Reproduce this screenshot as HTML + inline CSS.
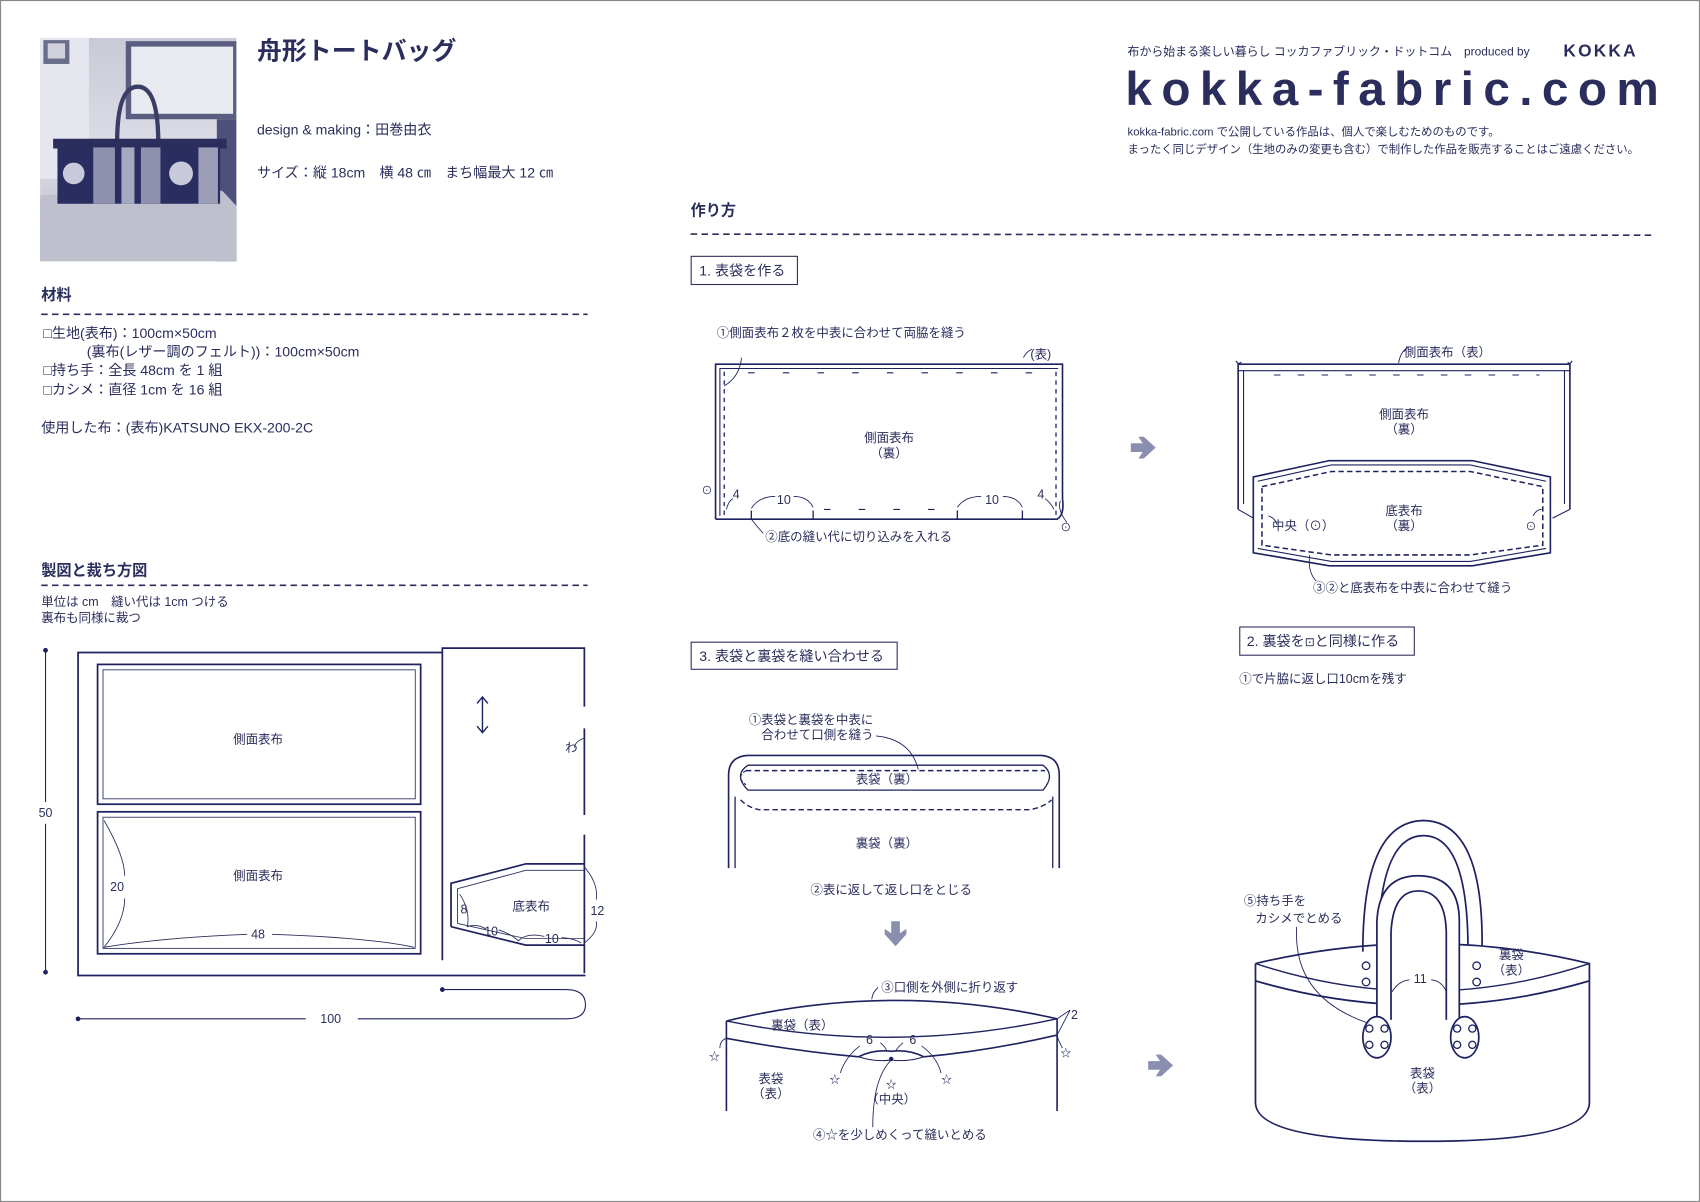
<!DOCTYPE html>
<html><head><meta charset="utf-8">
<style>
html,body{margin:0;padding:0;background:#fff;}
svg{display:block;}
text{font-family:"Liberation Sans","Noto Sans CJK JP",sans-serif;fill:#2b2e5c;}
</style></head>
<body>
<svg width="1700" height="1202" viewBox="0 0 1568 1109" preserveAspectRatio="none" xmlns="http://www.w3.org/2000/svg">
<rect x="0.5" y="0.5" width="1567" height="1108" fill="#fff" stroke="#888" stroke-width="1"/>

<!-- photo -->
<defs>
<linearGradient id="pg" x1="0" y1="0" x2="0" y2="1"><stop offset="0" stop-color="#c9cad6"/><stop offset="0.5" stop-color="#dcdde6"/><stop offset="1" stop-color="#b6b8c8"/></linearGradient>
</defs>
<rect x="37" y="35" width="181" height="206" fill="url(#pg)"/>
<rect x="37" y="35" width="45" height="130" fill="#e6e7ee"/>
<rect x="116" y="38" width="102" height="72" fill="#5a5d80"/>
<rect x="121" y="43" width="94" height="62" fill="#e9eaf0"/>
<rect x="40" y="37" width="24" height="22" fill="#6a6d8a"/><rect x="44" y="40" width="16" height="14" fill="#d0d1dc"/>
<rect x="200" y="110" width="18" height="131" fill="#4d507a"/>
<path d="M37 180 L205 176 L218 190 L218 241 L37 241 Z" fill="#bfc0cd"/>
<path d="M108 132 Q108 80 127 80 Q146 80 146 132" fill="none" stroke="#3a3d66" stroke-width="4"/>
<rect x="49" y="128" width="160" height="9" fill="#2b2e5c"/>
<rect x="53" y="136" width="150" height="52" fill="#2a2d60"/>
<rect x="86" y="136" width="20" height="52" fill="#8e90ad"/><rect x="112" y="136" width="12" height="52" fill="#a6a8c0"/><rect x="130" y="136" width="18" height="52" fill="#8e90ad"/><rect x="183" y="136" width="18" height="52" fill="#9c9eb8"/>
<circle cx="68" cy="160" r="10" fill="#c8c9da"/><circle cx="167" cy="160" r="11" fill="#c8c9da"/>

<!-- header left -->
<text x="237" y="55" font-size="23" font-weight="bold" fill="#1f2260">舟形トートバッグ</text>
<text x="237" y="124" font-size="13">design &amp; making：田巻由衣</text>
<text x="237" y="164" font-size="13">サイズ：縦 18cm　横 48 ㎝　まち幅最大 12 ㎝</text>

<text x="38" y="277" font-size="14" font-weight="bold" fill="#1f2260">材料</text>
<line x1="38" y1="290" x2="542" y2="290" stroke="#2b2e5c" stroke-width="1.5" stroke-dasharray="6,4"/>
<text x="40" y="312" font-size="13">□生地(表布)：100cm×50cm</text>
<text x="80" y="329" font-size="13">(裏布(レザー調のフェルト))：100cm×50cm</text>
<text x="40" y="346" font-size="13">□持ち手：全長 48cm を 1 組</text>
<text x="40" y="364" font-size="13">□カシメ：直径 1cm を 16 組</text>
<text x="38" y="399" font-size="13">使用した布：(表布)KATSUNO EKX-200-2C</text>

<text x="38" y="531" font-size="14" font-weight="bold" fill="#1f2260">製図と裁ち方図</text>
<line x1="38" y1="540" x2="542" y2="540" stroke="#2b2e5c" stroke-width="1.5" stroke-dasharray="6,4"/>
<text x="38" y="559" font-size="11.5">単位は cm　縫い代は 1cm つける</text>
<text x="38" y="574" font-size="11.5">裏布も同様に裁つ</text>

<!-- pattern layout -->
<g stroke="#1f2260" fill="none" stroke-width="1.6">
<path d="M408 602 L72 602 L72 900 L540 900"/>
<path d="M408 886 L408 598 L539 598 L539 652 M539 672 L539 752 M539 770 L539 898"/>
<rect x="90" y="613" width="298" height="129"/>
<rect x="90" y="749" width="298" height="131"/>
<path d="M416 855 L416 815 L485 797 L539 797 M539 872 L485 872 L416 855"/>
<line x1="42" y1="600" x2="42" y2="740" stroke-width="1"/><line x1="42" y1="760" x2="42" y2="897" stroke-width="1"/>
<line x1="72" y1="940" x2="282" y2="940" stroke-width="1"/><path d="M330 940 L522 940 Q540 940 540 927 Q540 913 522 913 L408 913" stroke-width="1"/>
<path d="M445 643 L445 676 M440 649 L445 643 L450 649 M440 670 L445 676 L450 670" stroke-width="1.3"/>
</g>
<g stroke="#2b2e5c" fill="none" stroke-width="0.8">
<rect x="95" y="618" width="288" height="119"/>
<rect x="95" y="754" width="288" height="121"/>
<path d="M422 852 L422 820 L485 803 L539 803 M539 866 L485 866 L422 852"/>
<path d="M96 757 Q115 790 115 808 M115 829 Q115 850 96 874 Q150 865 228 862 M251 862 Q340 865 382 874"/>
<path d="M539 800 Q552 815 550 830 M550 850 Q552 860 539 870"/>
<path d="M424 825 Q434 840 431 855 Q440 852 448 857 M460 858 Q472 862 478 868 Q486 860 502 864 M518 865 Q530 866 536 870"/>
<path d="M539 681 Q530 684 530 690"/>
</g>
<g fill="#1f2260"><circle cx="42" cy="600" r="2.2"/><circle cx="42" cy="897" r="2.2"/><circle cx="72" cy="940" r="2.2"/><circle cx="408" cy="913" r="2.2"/></g>
<g font-size="11.5" text-anchor="middle">
<text x="238" y="686">側面表布</text><text x="238" y="812">側面表布</text>
<text x="42" y="754">50</text><text x="305" y="944">100</text><text x="108" y="822">20</text><text x="238" y="866">48</text>
<text x="490" y="840">底表布</text><text x="428" y="843">8</text><text x="551" y="844">12</text><text x="453" y="863">10</text><text x="509" y="870">10</text><text x="527" y="694">わ</text>
</g>

<!-- header right -->
<text x="1040" y="51" font-size="11">布から始まる楽しい暮らし コッカファブリック・ドットコム　produced by</text>
<text x="1442" y="52" font-size="16" font-weight="bold" font-family="Liberation Serif,serif" letter-spacing="2" fill="#1f2260">KOKKA</text>
<text x="1038" y="97" font-size="44" font-weight="bold" textLength="492" lengthAdjust="spacing" fill="#1f2260" font-family="Liberation Sans,sans-serif">kokka-fabric.com</text>
<text x="1040" y="125" font-size="10.5">kokka-fabric.com で公開している作品は、個人で楽しむためのものです。</text>
<text x="1040" y="141" font-size="10.5">まったく同じデザイン（生地のみの変更も含む）で制作した作品を販売することはご遠慮ください。</text>

<text x="637" y="199" font-size="14" font-weight="bold" fill="#1f2260">作り方</text>
<line x1="637" y1="216" x2="1525" y2="217" stroke="#2b2e5c" stroke-width="1.5" stroke-dasharray="6,4"/>

<rect x="637.5" y="236.5" width="98" height="26" fill="none" stroke="#2b2e5c"/>
<text x="645" y="254" font-size="13">1. 表袋を作る</text>

<!-- fig1 -->
<g stroke="#1f2260" fill="none" stroke-width="1.5">
<path d="M660 479 L660 336 L980 336 L980 460 Q982 475 975 479 L660 479"/>
<path d="M664 476 L664 340 L976 340" stroke-width="1"/>
<line x1="668" y1="343" x2="668" y2="475" stroke-dasharray="4,4" stroke-width="1.2"/>
<line x1="974" y1="343" x2="974" y2="475" stroke-dasharray="4,4" stroke-width="1.2"/>
<line x1="690" y1="344" x2="960" y2="344" stroke-dasharray="6,26" stroke-width="1"/>
<line x1="760" y1="470" x2="870" y2="470" stroke-dasharray="6,26" stroke-width="1"/>
<path d="M693 479 L693 471 M750 479 L750 471 M883 479 L883 471 M943 479 L943 471" stroke-width="1.2"/>
<path d="M693 469 Q700 458 715 458 M732 458 Q745 458 750 468 M883 468 Q890 458 905 458 M925 458 Q938 458 943 468 M670 470 Q672 462 676 460 M964 460 Q970 465 972 470" stroke-width="0.8"/>
<path d="M684 330 Q682 348 668 356 M693 479 Q700 488 704 492 M944 330 Q946 325 952 322 M978 462 Q975 470 984 482" stroke-width="0.8"/>
</g>
<g font-size="11.5" text-anchor="middle">
<text x="776" y="311">①側面表布２枚を中表に合わせて両脇を縫う</text>
<text x="960" y="331">(表)</text>
<text x="820" y="408">側面表布</text><text x="820" y="422">（裏）</text>
<text x="679" y="460">4</text><text x="723" y="465">10</text><text x="915" y="465">10</text><text x="960" y="460">4</text>
<text x="792" y="499">②底の縫い代に切り込みを入れる</text>
<text x="652" y="456" font-size="10">⊙</text><text x="983" y="490" font-size="10">⊙</text>
</g>

<!-- arrows -->
<g fill="#8a8fb0">
<path d="M1043 409 L1054 409 L1050 403 L1055 403 L1066 413 L1055 423 L1050 423 L1054 417 L1043 417 Z"/>
<path d="M1059 979 L1070 979 L1066 973 L1071 973 L1082 983 L1071 993 L1066 993 L1070 987 L1059 987 Z"/>
<path d="M822 850 L822 861 L816 857 L816 862 L826 873 L836 862 L836 857 L830 861 L830 850 Z"/>
</g>

<!-- fig2 -->
<g stroke="#1f2260" fill="none" stroke-width="1.5">
<path d="M1142 470 L1142 336 L1448 336 L1448 470"/>
<path d="M1142 342 L1448 342 M1147 342 L1147 465 M1443 342 L1443 465" stroke-width="1"/>
<path d="M1140 333 Q1142 337 1145 334 M1446 334 Q1448 337 1450 333" stroke-width="1"/>
<line x1="1175" y1="346" x2="1420" y2="346" stroke-dasharray="6,16" stroke-width="1"/>
<path d="M1142 470 L1156 478 M1448 470 L1432 478" stroke-width="1"/>
<path d="M1156 440 L1226 425 L1358 425 L1430 440 L1430 510 L1358 522 L1226 522 L1156 510 Z" fill="#fff"/>
<path d="M1160 444 L1228 429 L1356 429 L1426 444 M1160 506 L1228 518 L1356 518 L1426 506" stroke-width="1"/>
<path d="M1164 449 L1228 435 L1356 435 L1423 449 L1423 503 L1356 512 L1228 512 L1164 503 Z" stroke-dasharray="5,3" stroke-width="1.4"/>
<path d="M1290 335 Q1292 323 1300 320 M1208 512 Q1206 528 1214 536 M1170 476 Q1176 478 1178 484 M1414 476 Q1417 470 1422 470" stroke-width="0.8"/>
</g>
<g font-size="11.5" text-anchor="middle">
<text x="1335" y="329">側面表布（表）</text>
<text x="1295" y="386">側面表布</text><text x="1295" y="400">（裏）</text>
<text x="1295" y="475">底表布</text><text x="1295" y="489">（裏）</text>
<text x="1202" y="489">中央（⊙）</text><text x="1412" y="489" font-size="10">⊙</text>
<text x="1303" y="546">③②と底表布を中表に合わせて縫う</text>
</g>

<!-- box 3 and 2 -->
<rect x="637.5" y="592.5" width="190" height="25" fill="none" stroke="#2b2e5c"/>
<text x="645" y="610" font-size="13">3. 表袋と裏袋を縫い合わせる</text>
<rect x="1143.5" y="578.5" width="161" height="26" fill="none" stroke="#2b2e5c"/>
<text x="1150" y="596" font-size="13">2. 裏袋を<tspan font-size="11">⊡</tspan>と同様に作る</text>
<text x="1143" y="630" font-size="11.5">①で片脇に返し口10cmを残す</text>

<!-- fig3 top -->
<g stroke="#1f2260" fill="none" stroke-width="1.5">
<path d="M672 801 L672 715 Q672 698 690 697 L960 697 Q977 698 977 715 L977 801"/>
<path d="M678 801 L678 735 M971 801 L971 735" stroke-width="1.2"/>
<path d="M690 706 L962 706 Q974 715 962 729 L690 729 Q676 715 690 706 Z" stroke-width="1.2"/>
<path d="M688 711 L964 711" stroke-dasharray="5,3" stroke-width="1.3"/>
<path d="M688 711 Q678 717 688 724" stroke-dasharray="3,2" stroke-width="1.1"/>
<path d="M683 738 Q690 745 700 747 L950 747 Q962 745 970 738" stroke-dasharray="5,3" stroke-width="1.3"/>
<path d="M808 679 Q840 682 847 710" stroke-width="0.8"/>
</g>
<g font-size="11.5" text-anchor="middle">
<text x="748" y="668">①表袋と裏袋を中表に</text>
<text x="754" y="682">合わせて口側を縫う</text>
<text x="818" y="723">表袋（裏）</text>
<text x="818" y="782">裏袋（裏）</text>
<text x="822" y="825">②表に返して返し口をとじる</text>
</g>

<!-- fig3 bottom -->
<g stroke="#1f2260" fill="none" stroke-width="1.5">
<path d="M670 942 Q822 905 975 940"/>
<path d="M670 942 Q822 973 975 940" stroke-width="1.3"/>
<path d="M670 942 L670 958 M975 940 L975 955"/>
<path d="M670 958 Q735 970 792 975 Q806 968 822 970 Q838 968 852 975 Q910 970 975 955"/>
<path d="M670 958 L670 1025 M975 955 L975 1025"/>
<path d="M792 975 Q806 980 822 978 Q838 980 852 975" stroke-width="1"/>
<path d="M664 967 Q664 960 670 958 M980 967 Q976 960 975 955 M775 990 Q780 975 793 965 M868 990 Q864 975 850 965 M818 970 Q817 966 812 962 M826 970 Q828 966 833 962 M822 978 Q805 995 805 1040 M975 940 L987 932 M975 955 L987 932" stroke-width="0.8"/>
<path d="M810 911 Q805 915 804 922" stroke-width="0.8"/>
</g>
<circle cx="822" cy="977" r="2" fill="#1f2260"/>
<g font-size="11.5" text-anchor="middle">
<text x="876" y="915">③口側を外側に折り返す</text>
<text x="740" y="950">裏袋（表）</text>
<text x="991" y="940">2</text>
<text x="802" y="963">6</text><text x="842" y="963">6</text>
<text x="711" y="999">表袋</text><text x="711" y="1013">（表）</text>
<text x="822" y="1018">（中央）</text>
<text x="659" y="978" font-size="10">☆</text><text x="770" y="999" font-size="10">☆</text><text x="822" y="1004" font-size="10">☆</text><text x="873" y="999" font-size="10">☆</text><text x="983" y="975" font-size="10">☆</text>
<text x="830" y="1051">④☆を少しめくって縫いとめる</text>
</g>

<!-- fig4 bag -->
<g stroke="#1f2260" fill="none" stroke-width="1.6">
<path d="M1257 878 Q1257 758 1313 757 Q1368 758 1367 873"/>
<path d="M1271 876 Q1272 771 1313 771 Q1353 771 1354 872"/>
<path d="M1158 889 Q1313 852 1466 889 L1466 905"/>
<path d="M1158 889 L1158 905"/>
<path d="M1158 889 Q1313 940 1466 889" stroke-width="1.3" fill="#fff"/>
<path d="M1158 905 Q1313 950 1466 905"/>
<path d="M1158 905 L1158 1018 Q1160 1053 1313 1053 Q1464 1053 1466 1018 L1466 905"/>
<path d="M1270 945 L1270 850 Q1272 808 1308 808 Q1346 808 1346 850 L1346 945" fill="#fff"/>
<path d="M1283 941 L1283 860 Q1285 822 1308 822 Q1333 822 1334 860 L1334 941"/>
<ellipse cx="1270" cy="957" rx="13" ry="19" fill="#fff"/>
<ellipse cx="1351" cy="957" rx="13" ry="19" fill="#fff"/>
<path d="M1284 915 Q1290 905 1300 904 M1320 904 Q1330 905 1334 915 M1196 855 Q1192 920 1262 944" stroke-width="0.8"/>
</g>
<g fill="#fff" stroke="#1f2260" stroke-width="1.2">
<circle cx="1260" cy="891" r="3.5"/><circle cx="1260" cy="906" r="3.5"/><circle cx="1362" cy="891" r="3.5"/><circle cx="1362" cy="906" r="3.5"/>
<circle cx="1263" cy="949" r="3.3"/><circle cx="1277" cy="949" r="3.3"/><circle cx="1263" cy="964" r="3.3"/><circle cx="1277" cy="964" r="3.3"/>
<circle cx="1344" cy="949" r="3.3"/><circle cx="1358" cy="949" r="3.3"/><circle cx="1344" cy="964" r="3.3"/><circle cx="1358" cy="964" r="3.3"/>
</g>
<g font-size="11.5" text-anchor="middle">
<text x="1176" y="835">⑤持ち手を</text>
<text x="1198" y="851">カシメでとめる</text>
<text x="1310" y="907">11</text>
<text x="1394" y="885">裏袋</text><text x="1394" y="899">（表）</text>
<text x="1312" y="994">表袋</text><text x="1312" y="1008">（表）</text>
</g>
</svg>
</body></html>
